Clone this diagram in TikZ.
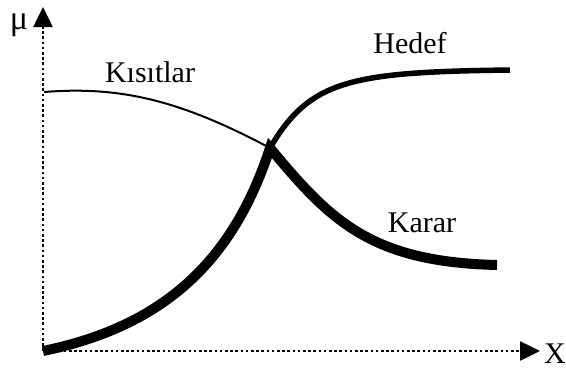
\documentclass[tikz,border=0pt]{standalone}
\usepackage{fontspec}
\setmainfont{Liberation Serif}
\usetikzlibrary{arrows.meta}
\begin{document}
\begin{tikzpicture}[x=1pt,y=-1pt,
  axis/.style={line width=2.6pt,dash pattern=on 2.6pt off 2.6pt,-{Triangle[length=20pt,width=19pt]}},
  lbl/.style={font=\fontsize{30}{30}\selectfont,anchor=base,inner sep=0pt},
  thin curve/.style={line width=2pt},
  mid curve/.style={line width=5.5pt},
  thick curve/.style={line width=10pt}]
\useasboundingbox (0,0) rectangle (566,368);
\coordinate (O) at (43,351);
\coordinate (Ytip) at (43,7);
\coordinate (Xtip) at (540,351);
\coordinate (I) at (270,148);
\coordinate (K0) at (44,92);
\coordinate (H1) at (510,70);
\coordinate (R1) at (497,265);
\draw[axis] (O) -- (Ytip);
\draw[axis] (O) -- (Xtip);
\node[lbl,font=\fontsize{34}{34}\selectfont] (mu) at (19,29) {μ};
\node[lbl] (xl) at (555,363) {X};
\draw[thin curve] (K0) .. controls (120,86) and (180,100) .. (I);
\draw[mid curve] (I) .. controls (310,80) and (350,72) .. (H1);
\draw[thick curve,line cap=butt] (O) .. controls (170,325) and (235,255) .. (I)
  .. controls (330,220) and (370,262) .. (R1);
\node[lbl] (k) at (150,82) {Kısıtlar};
\node[lbl] (h) at (410,53) {Hedef};
\node[lbl] (r) at (422,232) {Karar};
\end{tikzpicture}
\end{document}
